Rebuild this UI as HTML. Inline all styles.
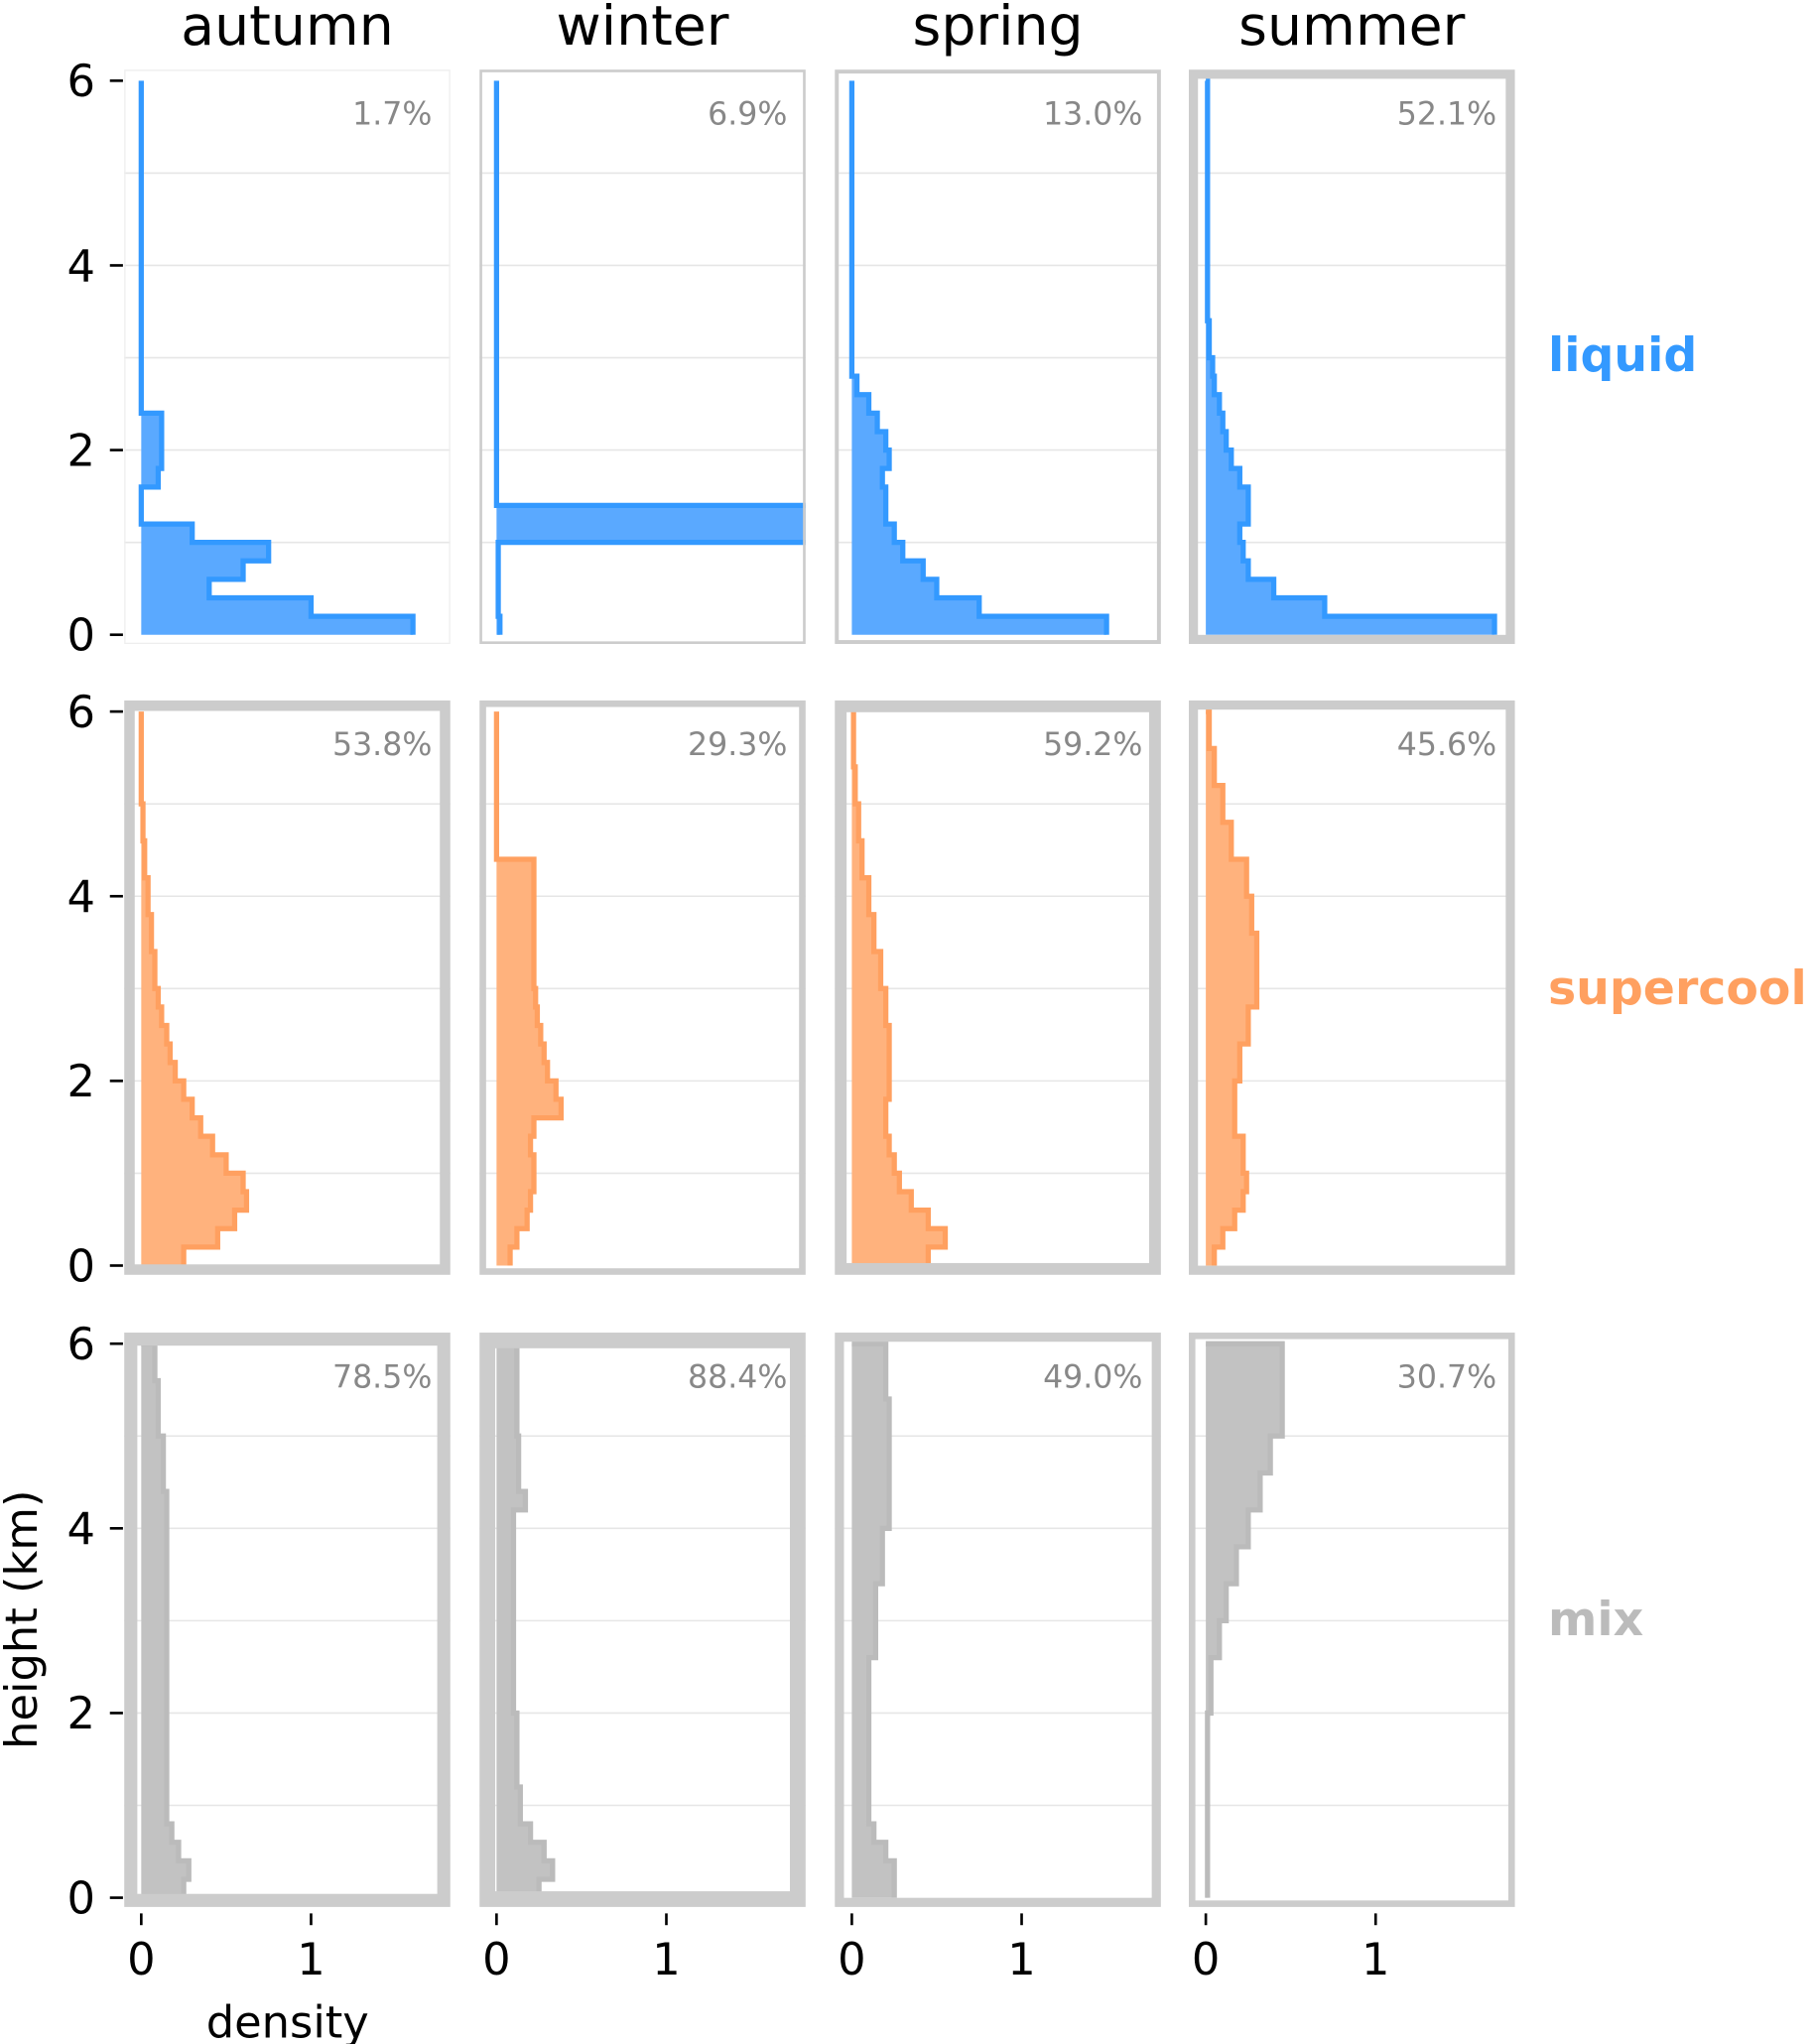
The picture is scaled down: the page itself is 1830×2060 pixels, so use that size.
<!DOCTYPE html>
<html><head><meta charset="utf-8"><style>
html,body{margin:0;padding:0;background:#fff}
svg{display:block;font-family:"DejaVu Sans","Liberation Sans",sans-serif}
</style></head><body>
<svg id="chart" width="1830" height="2060" viewBox="0 0 1390 1565" xmlns="http://www.w3.org/2000/svg"></svg>
<script>
const seasons = ["autumn","winter","spring","summer"];
const phases = ["liquid","supercool","mix"];
const binEdges = [0,0.2,0.4,0.6,0.8,1.0,1.2,1.4,1.6,1.8,2.0,2.2,2.4,2.6,2.8,3.0,3.2,3.4,3.6,3.8,4.0,4.2,4.4,4.6,4.8,5.0,5.2,5.4,5.6,5.8,6.0];
const yTicks = [0,2,4,6];
const xTicks = [0,1];
const percents = [
  ["1.7%","6.9%","13.0%","52.1%"],
  ["53.8%","29.3%","59.2%","45.6%"],
  ["78.5%","88.4%","49.0%","30.7%"]
];
const frameWidths = [[1,2,3,7],[8,5,9,7],[10,12,7,5]];
const liquidAutumn = [1.6,1.0,0.4,0.6,0.75,0.3,0,0,0.1,0.12,0.12,0.12,0,0,0,0,0,0,0,0,0,0,0,0,0,0,0,0,0,0];
const liquidWinter = [0.02,0.01,0.01,0.01,0.01,1.9,1.9,0,0,0,0,0,0,0,0,0,0,0,0,0,0,0,0,0,0,0,0,0,0,0];
const liquidSpring = [1.5,0.75,0.5,0.42,0.3,0.25,0.2,0.2,0.18,0.22,0.2,0.15,0.1,0.03,0,0,0,0,0,0,0,0,0,0,0,0,0,0,0,0];
const liquidSummer = [1.7,0.7,0.4,0.25,0.22,0.2,0.25,0.25,0.2,0.15,0.12,0.1,0.08,0.05,0.04,0.02,0.02,0.01,0.01,0.01,0.01,0.01,0.01,0.01,0.01,0.01,0.01,0.01,0.01,0.01];
const superAutumn = [0.25,0.45,0.55,0.62,0.6,0.5,0.42,0.35,0.3,0.25,0.2,0.17,0.15,0.12,0.1,0.08,0.08,0.06,0.06,0.04,0.04,0.02,0.02,0.01,0.01,0,0,0,0,0];
const superWinter = [0.08,0.12,0.18,0.2,0.22,0.22,0.2,0.22,0.38,0.35,0.3,0.28,0.26,0.24,0.23,0.22,0.22,0.22,0.22,0.22,0.22,0.22,0,0,0,0,0,0,0,0];
const superSpring = [0.45,0.55,0.45,0.35,0.28,0.25,0.22,0.2,0.2,0.22,0.22,0.22,0.22,0.2,0.2,0.17,0.17,0.13,0.13,0.1,0.1,0.06,0.06,0.04,0.04,0.02,0.02,0.01,0.01,0.01];
const superSummer = [0.05,0.1,0.17,0.22,0.24,0.22,0.22,0.17,0.17,0.17,0.2,0.2,0.25,0.25,0.3,0.3,0.3,0.3,0.27,0.27,0.24,0.24,0.15,0.15,0.1,0.1,0.05,0.05,0.02,0.02];
const mixAutumn = [0.25,0.28,0.22,0.18,0.15,0.15,0.15,0.15,0.15,0.15,0.15,0.15,0.15,0.15,0.15,0.15,0.15,0.15,0.15,0.15,0.15,0.15,0.13,0.13,0.13,0.1,0.1,0.1,0.08,0.08];
const mixWinter = [0.25,0.33,0.28,0.2,0.14,0.14,0.12,0.12,0.12,0.12,0.1,0.1,0.1,0.1,0.1,0.1,0.1,0.1,0.1,0.1,0.1,0.17,0.13,0.13,0.13,0.12,0.12,0.12,0.12,0.12];
const mixSpring = [0.25,0.25,0.2,0.13,0.1,0.1,0.1,0.1,0.1,0.1,0.1,0.1,0.1,0.14,0.14,0.14,0.14,0.18,0.18,0.18,0.22,0.22,0.22,0.22,0.22,0.22,0.22,0.2,0.2,0.2];
const mixSummer = [0.01,0.01,0.01,0.01,0.01,0.01,0.01,0.01,0.01,0.01,0.03,0.03,0.03,0.08,0.08,0.12,0.12,0.18,0.18,0.25,0.25,0.32,0.32,0.38,0.38,0.45,0.45,0.45,0.45,0.45];
const series = [
  [liquidAutumn,liquidWinter,liquidSpring,liquidSummer],
  [superAutumn,superWinter,superSpring,superSummer],
  [mixAutumn,mixWinter,mixSpring,mixSummer]
];
const strokeCols = ["#3399ff","#ffa060","#bbbbbb"];
const fillCols = ["#5aa9ff","#ffb27d","#c2c2c2"];

const NS = "http://www.w3.org/2000/svg";
const svg = document.getElementById("chart");
function mk(tag, attrs, parent){ const e=document.createElementNS(NS,tag); for(const k in attrs) e.setAttribute(k,attrs[k]); (parent||svg).appendChild(e); return e; }
const colX0 = [108,380,652,923];
const rowY0 = [486,969,1453];
const pxPerDensity = 130, pxPerKm = 70.7;
const xMin=-0.1, xMax=1.82, yMin=-0.1, yMax=6.12;
function xs(c,v){ return colX0[c] + v*pxPerDensity; }
function ys(r,v){ return rowY0[r] - v*pxPerKm; }

// column titles
seasons.forEach((s,c)=>{
  const t = mk("text",{x:(xs(c,xMin)+xs(c,xMax))/2,y:34,"text-anchor":"middle","font-size":42,fill:"#000"});
  t.textContent = s;
  
  
});
// row labels
const rowLabelY = [272,757,1240];
phases.forEach((p,r)=>{
  const t = mk("text",{x:1185,y:rowLabelY[r]+12,"font-size":36,"font-weight":"bold",fill:strokeCols[r]==="#bbbbbb"?"#bbbbbb":strokeCols[r]});
  t.textContent = p;
  
  
});

for(let r=0;r<3;r++){
  for(let c=0;c<4;c++){
    const g = mk("g",{});
    
    
    const L=xs(c,xMin), R=xs(c,xMax), T=ys(r,yMax), B=ys(r,yMin);
    const cid = "clip"+r+"_"+c;
    const cp = mk("clipPath",{id:cid},g); mk("rect",{x:L,y:T,width:R-L,height:B-T},cp);
    // grid
    for(let k=1;k<=5;k++){
      const gl = mk("line",{x1:L,x2:R,y1:ys(r,k),y2:ys(r,k),stroke:"#e6e6e6","stroke-width":1.2},g);
      
      
    }
    // step histogram
    const d = series[r][c];
    let pts = [[xs(c,0), ys(r,binEdges[binEdges.length-1])]];
    for(let i=d.length-1;i>=0;i--){
      pts.push([xs(c,d[i]), ys(r,binEdges[i+1])]);
      pts.push([xs(c,d[i]), ys(r,binEdges[i])]);
    }
    const line = pts.map((p,i)=>(i?"L":"M")+p[0].toFixed(1)+","+p[1].toFixed(1)).join("");
    const fill = mk("path",{d:line+"L"+xs(c,0)+","+ys(r,0)+"Z",fill:fillCols[r],"clip-path":"url(#"+cid+")"},g);
    
    
    const st = mk("path",{d:line,fill:"none",stroke:strokeCols[r],"stroke-width":4,"clip-path":"url(#"+cid+")"},g);
    
    
    // frame
    const w = frameWidths[r][c];
    const fr = mk("rect",{x:L+w/2,y:T+w/2,width:R-L-w,height:B-T-w,fill:"none",stroke:r+c===0?"#eeeeee":"#cccccc","stroke-width":w},g);
    
    
    // percent
    const pt = mk("text",{x:R-14,y:T+42,"text-anchor":"end","font-size":24,fill:"#888"},g);
    pt.textContent = percents[r][c];
    
    
  }
  // y ticks
  yTicks.forEach(v=>{
    const y=ys(r,v);
    const tk = mk("line",{x1:84,x2:94,y1:y,y2:y,stroke:"#000","stroke-width":2});
    
    
    const t = mk("text",{x:62,y:y+12,"text-anchor":"middle","font-size":34});
    t.textContent = v;
    
    
  });
}
// x ticks
for(let c=0;c<4;c++){
  xTicks.forEach(v=>{
    const x=xs(c,v);
    const tk = mk("line",{x1:x,x2:x,y1:1465,y2:1474,stroke:"#000","stroke-width":2});
    
    
    const t = mk("text",{x:x,y:1512,"text-anchor":"middle","font-size":34});
    t.textContent = v;
    
    
  });
}
const xt = mk("text",{x:220,y:1560,"text-anchor":"middle","font-size":34});
xt.textContent = "density";


const yt = mk("text",{x:0,y:0,"text-anchor":"middle","font-size":34,transform:"translate(28,1240) rotate(-90)"});
yt.textContent = "height (km)";


</script>
</body></html>
